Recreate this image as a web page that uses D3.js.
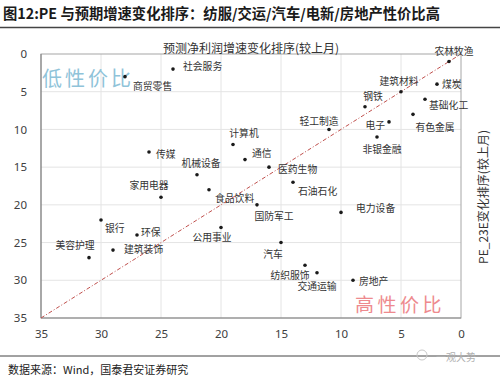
<!DOCTYPE html>
<html><head><meta charset="utf-8">
<script src="https://cdn.jsdelivr.net/npm/d3@7"></script>
<style>
html,body{margin:0;padding:0;background:#fff;}
svg{display:block;}
</style></head>
<body>
<script>
const industries = ["农林牧渔","煤炭","建筑材料","基础化工","钢铁","有色金属","电子","轻工制造","非银金融","计算机","传媒","通信","医药生物","机械设备","石油石化","食品饮料","家用电器","国防军工","电力设备","银行","公用事业","环保","汽车","建筑装饰","美容护理","纺织服饰","交通运输","房地产","社会服务","商贸零售"];
const growthRankChange = [1,2,5,3,8,4,6,11,7,19,26,18,16,22,14,21,25,17,10,30,20,27,15,29,31,13,12,9,24,28];
const peRankChange     = [1,4,5,6,7,8,9,10,11,12,13,14,15,16,17,18,19,20,21,22,23,24,25,26,27,28,29,30,2,3];
const xTicks = [35,30,25,20,15,10,5,0];
const yTicks = [0,5,10,15,20,25,30,35];
const diagonal = [[35,35],[0,0]];

// label layout (anchor, dx, dy) per industry, in the same order
const labelLayout = [
  ["middle",5,-11],["start",5,0],["middle",-2,-11],["start",4,6],["middle",8,-11],["middle",22,13],
  ["end",-4,3],["middle",-10,-8],["middle",5,12],["middle",11,-12],["start",7,2],["start",7,-7],
  ["start",9,2],["middle",4,-12],["start",5,9],["start",6,8],["middle",-12,-12],["middle",17,11],
  ["start",15,-4],["start",4,8],["middle",-9,10],["start",4,-3],["middle",-8,11],["start",11,-1],
  ["middle",-14,-13],["middle",-15,10],["middle",0,13],["start",6,1],["start",10,-3],["start",8,9]
];

const W = 500, H = 379;
const svg = d3.select("body").append("svg").attr("width", W).attr("height", H);
const cjk = "'Noto Sans CJK SC','Microsoft YaHei',sans-serif";

// Title
svg.append("text").attr("x", 3).attr("y", 19)
  .style("font-family", cjk).style("font-weight", "bold").style("font-size", "14.3px").attr("fill", "#1a1a1a")
  .text("图12:PE 与预期增速变化排序：纺服/交运/汽车/电新/房地产性价比高");
svg.append("line").attr("x1", 0).attr("x2", W).attr("y1", 27.5).attr("y2", 27.5)
  .attr("stroke", "#444").attr("stroke-width", 1.5);

const x = d3.scaleLinear().domain([35, 0]).range([41, 461]);
const y = d3.scaleLinear().domain([0, 35]).range([54, 318]);

// grid
const g = svg.append("g");
g.selectAll(".vg").data(xTicks.filter(d => d !== 35 && d !== 0)).join("line")
  .attr("x1", d => x(d)).attr("x2", d => x(d)).attr("y1", y(0)).attr("y2", y(35))
  .attr("stroke", "#e4e4e4").attr("stroke-width", 1);
g.selectAll(".hg").data(yTicks.filter(d => d !== 35 && d !== 0)).join("line")
  .attr("x1", x(35)).attr("x2", x(0)).attr("y1", d => y(d)).attr("y2", d => y(d))
  .attr("stroke", "#e4e4e4").attr("stroke-width", 1);

// frame
g.append("rect").attr("x", x(35)).attr("y", y(0)).attr("width", x(0) - x(35)).attr("height", y(35) - y(0))
  .attr("fill", "none").attr("stroke", "#a6a6a6").attr("stroke-width", 1);
g.append("line").attr("x1", x(35)).attr("x2", x(35)).attr("y1", y(0)).attr("y2", y(35))
  .attr("stroke", "#7f7f7f").attr("stroke-width", 1);
g.append("line").attr("x1", x(35)).attr("x2", x(0)).attr("y1", y(35)).attr("y2", y(35))
  .attr("stroke", "#8c8c8c").attr("stroke-width", 1.2);

// axes
const xAxis = svg.append("g").attr("transform", `translate(0,${y(35)})`)
  .call(d3.axisBottom(x).tickValues(xTicks).tickSize(0).tickPadding(12));
const yAxis = svg.append("g").attr("transform", `translate(${x(35)},0)`)
  .call(d3.axisLeft(y).tickValues(yTicks).tickSize(0).tickPadding(14));
[xAxis, yAxis].forEach(a => {
  a.select(".domain").remove();
  a.selectAll("text").style("font-family", "'Noto Sans','Segoe UI',sans-serif").style("font-size", "11.5px").attr("fill", "#404040");
});

// axis titles
svg.append("text").attr("x", 251).attr("y", 47).attr("text-anchor", "middle").attr("dominant-baseline", "central")
  .style("font-family", cjk).style("font-size", "12px").attr("fill", "#333")
  .text("预测净利润增速变化排序(较上月)");
svg.append("text").attr("transform", "translate(482,197) rotate(-90)").attr("text-anchor", "middle").attr("dominant-baseline", "central")
  .style("font-family", cjk).style("font-size", "12px").attr("fill", "#333")
  .text("PE_23E变化排序(较上月)");

// diagonal
const line = d3.line().x(d => x(d[0])).y(d => y(d[1]));
svg.append("path").attr("d", line(diagonal)).attr("fill", "none")
  .attr("stroke", "#c0504d").attr("stroke-width", 1).attr("stroke-dasharray", "4,2,1,2");

// annotations
svg.append("text").attr("x", 42).attr("y", 77).attr("dominant-baseline", "central")
  .style("font-family", cjk).style("font-size", "20px").style("letter-spacing", "3px").attr("fill", "#8fc3d9")
  .text("低性价比");
svg.append("text").attr("x", 355).attr("y", 303).attr("dominant-baseline", "central")
  .style("font-family", cjk).style("font-size", "19px").style("letter-spacing", "3.5px").attr("fill", "#ee8a8e")
  .text("高性价比");

// points
const pts = industries.map((name, i) => ({name, gx: growthRankChange[i], py: peRankChange[i], lay: labelLayout[i]}));
svg.append("g").selectAll("circle").data(pts).join("circle")
  .attr("cx", d => x(d.gx)).attr("cy", d => y(d.py)).attr("r", 1.8).attr("fill", "#1a1a1a");
svg.append("g").selectAll("text").data(pts).join("text")
  .attr("x", d => x(d.gx) + d.lay[1]).attr("y", d => y(d.py) + d.lay[2])
  .attr("text-anchor", d => d.lay[0]).attr("dominant-baseline", "central")
  .style("font-family", cjk).style("font-size", "9.8px").attr("fill", "#333")
  .text(d => d.name);

// footer
svg.append("line").attr("x1", 0).attr("x2", W).attr("y1", 356).attr("y2", 356)
  .attr("stroke", "#444").attr("stroke-width", 1);
svg.append("text").attr("x", 8).attr("y", 369).attr("dominant-baseline", "central")
  .style("font-family", cjk).style("font-size", "11px").attr("fill", "#222")
  .text("数据来源：Wind，国泰君安证券研究");
svg.append("text").attr("x", 436).attr("y", 356).attr("dominant-baseline", "central")
  .style("font-family", cjk).style("font-size", "10px").attr("fill", "#b0b0b0")
  .text("一观大势");
svg.append("circle").attr("cx", 422).attr("cy", 355).attr("r", 5).attr("fill", "none").attr("stroke", "#c8c8c8");
</script>
</body></html>
